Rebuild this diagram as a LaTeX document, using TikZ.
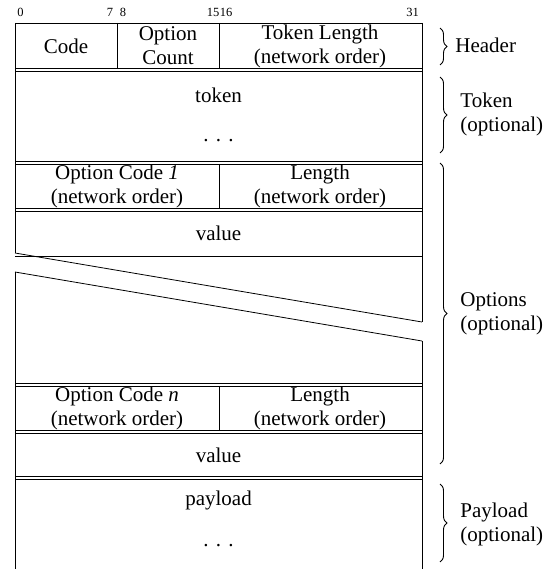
\documentclass[tikz,border=0pt]{standalone}
\usepackage{fontspec}
\setmainfont{Liberation Serif}
\usetikzlibrary{decorations.pathreplacing}
\begin{document}
\begin{tikzpicture}[x=1pt,y=-1pt,line width=0.8pt,
  lbl/.style={font=\fontsize{21}{24}\selectfont,align=center,inner sep=0pt},
  bitnum/.style={font=\fontsize{12.5}{14}\selectfont,inner sep=0pt},
  side/.style={font=\fontsize{21}{24}\selectfont,align=left,anchor=west,inner sep=0pt},
  brc/.style={decorate,decoration={brace,amplitude=7pt},line width=0.9pt},
  thin/.style={line width=0.7pt}]
\useasboundingbox (0,0) rectangle (554,569);

% bit numbers
\node[bitnum] (b0) at (20.5,12.5) {0};
\node[bitnum] (b7) at (110,12.5) {7};
\node[bitnum] (b8) at (123,12.5) {8};
\node[bitnum] (b15) at (213,12.5) {15};
\node[bitnum] (b16) at (226,12.5) {16};
\node[bitnum] (b31) at (412.5,12.5) {31};

% outline
\draw (15,23) -- (422,23);
\draw (15,23) -- (15,253);
\draw (15,272) -- (15,569);
\draw (422,23) -- (422,322);
\draw (422,341) -- (422,569);
\draw (15,256) -- (422,256);
\draw (15,253) -- (422,322);
\draw (15,272) -- (422,341);

% double separators
\foreach \yy in {70,163,210,385,432,478}{
  \draw[thin] (15,\yy-1.3) -- (422,\yy-1.3);
  \draw[thin] (15,\yy+1.3) -- (422,\yy+1.3);
}

% dividers
\draw (117,23) -- (117,69);
\draw (219,23) -- (219,69);
\draw (219,164) -- (219,209);
\draw (219,386) -- (219,431);

% field texts
\node[lbl] (code) at (66,46) {Code};
\node[lbl] (optcount) at (168,46) {Option\\Count};
\node[lbl] (toklen) at (320,46) {Token Length\\(network order)};
\node[lbl] (token) at (218.5,95) {token};
\node[lbl] (tokdots) at (218.5,141) {.\hspace{0.35em}.\hspace{0.35em}.};
\node[lbl] (opt1) at (117,186) {Option Code \textit{1}\\(network order)};
\node[lbl] (len1) at (320,186) {Length\\(network order)};
\node[lbl] (val1) at (218.5,233) {value};
\node[lbl] (optn) at (117,408) {Option Code \textit{n}\\(network order)};
\node[lbl] (lenn) at (320,408) {Length\\(network order)};
\node[lbl] (valn) at (218.5,455) {value};
\node[lbl] (payload) at (218.5,500) {payload};
\node[lbl] (paydots) at (218.5,546) {.\hspace{0.35em}.\hspace{0.35em}.};

% braces
\draw[brc] (440,28) -- (440,65);
\draw[brc] (440,77) -- (440,153);
\draw[brc] (440,163) -- (440,464);
\draw[brc] (440,484) -- (440,562);

\node[side] (hdr) at (455,45) {Header};
\node[side] (tok) at (460,114) {Token\\(optional)};
\node[side] (opts) at (460,314) {Options\\(optional)};
\node[side] (pay) at (460,524) {Payload\\(optional)};
\end{tikzpicture}
\end{document}
